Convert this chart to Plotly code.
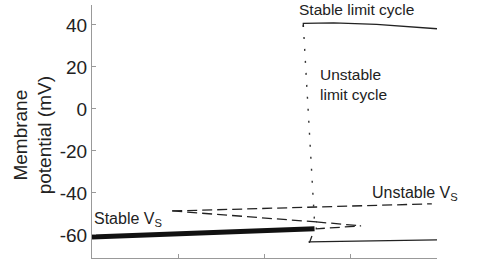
import plotly.graph_objects as go

# Data (x in arbitrary I_stim units, y in mV)
stable_vs_x = [0.0, 2.58]
stable_vs_y = [-61.0, -57.1]
unstable_vs_upper_x = [0.93, 3.94]
unstable_vs_upper_y = [-48.6, -45.2]
unstable_vs_lower_x = [0.93, 2.6, 2.6, 2.6, 3.12]
unstable_vs_lower_y = [-48.6, -53.8, -53.8, -57.1, -55.7]
unstable_vs_tail1_x = [2.6, 3.12]
unstable_vs_tail1_y = [-53.8, -55.7]
unstable_lc_x = [2.45, 2.58]
unstable_lc_y = [40.0, -54.0]
unstable_lc_bottom_x = [2.55, 2.52]
unstable_lc_bottom_y = [-60.5, -63.8]
stable_lc_upper_x = [2.45, 2.45, 2.8, 3.3, 4.0]
stable_lc_upper_y = [39.0, 40.8, 41.0, 40.3, 38.2]
stable_lc_lower_x = [2.51, 4.0]
stable_lc_lower_y = [-63.3, -62.4]
y_ticks = [-60, -40, -20, 0, 20, 40]
y_tick_labels = ["-60", "-40", "-20", "0", "20", "40"]
x_ticks = [1, 2, 3, 4]

dash_style = "10px,5px"
dot_style = "2px,10px"

fig = go.Figure()
fig.add_trace(go.Scatter(x=unstable_vs_upper_x, y=unstable_vs_upper_y, mode="lines",
                         line=dict(color="#222", width=1.3, dash=dash_style)))
fig.add_trace(go.Scatter(x=unstable_vs_lower_x, y=unstable_vs_lower_y, mode="lines",
                         line=dict(color="#222", width=1.3, dash=dash_style)))
fig.add_trace(go.Scatter(x=unstable_vs_tail1_x, y=unstable_vs_tail1_y, mode="lines",
                         line=dict(color="#222", width=1.3, dash=dash_style)))
fig.add_trace(go.Scatter(x=stable_vs_x, y=stable_vs_y, mode="lines",
                         line=dict(color="#111", width=5)))
fig.add_trace(go.Scatter(x=unstable_lc_x, y=unstable_lc_y, mode="lines",
                         line=dict(color="#333", width=1.4, dash=dot_style)))
fig.add_trace(go.Scatter(x=unstable_lc_bottom_x, y=unstable_lc_bottom_y, mode="lines",
                         line=dict(color="#222", width=1.3)))
fig.add_trace(go.Scatter(x=stable_lc_upper_x, y=stable_lc_upper_y, mode="lines",
                         line=dict(color="#222", width=1.3)))
fig.add_trace(go.Scatter(x=stable_lc_lower_x, y=stable_lc_lower_y, mode="lines",
                         line=dict(color="#222", width=1.3)))

font = "Liberation Sans, Arial, sans-serif"
ann = [
    dict(x=2.38, y=47.5, text="Stable limit cycle", size=15.5),
    dict(x=2.62, y=11.5, text="Unstable<br>limit cycle", size=15.5),
    dict(x=3.22, y=-40.5, text="Unstable V<sub>S</sub>", size=16),
    dict(x=0.0, y=-52.5, text="Stable V<sub>S</sub>", size=16),
    dict(x=4.1, y=-68.5, text="I<sub>stim</sub>", size=19),
]
for a in ann:
    fig.add_annotation(x=a["x"], y=a["y"], xref="x", yref="y", text=a["text"], showarrow=False,
                       xanchor="left", yanchor="middle", align="left",
                       font=dict(family=font, size=a["size"], color="#222"))
fig.add_annotation(x=-0.171, y=0.485, xref="paper", yref="paper", xanchor="center", yanchor="middle",
                   text="Membrane<br>potential (mV)", textangle=-90, showarrow=False,
                   font=dict(family=font, size=19, color="#222"))

fig.update_layout(
    width=500, height=277, margin=dict(l=92, r=63, t=5, b=19),
    plot_bgcolor="white", paper_bgcolor="white", showlegend=False,
    xaxis=dict(range=[0, 4], showline=True, linecolor="#999", linewidth=1, ticks="inside",
               tickvals=x_ticks, ticklen=4, tickcolor="#999", showticklabels=False,
               showgrid=False, zeroline=False, fixedrange=True),
    yaxis=dict(range=[-71, 49.5], showline=True, linecolor="#999", linewidth=1, ticks="inside",
               tickvals=y_ticks, ticktext=y_tick_labels, ticklen=4, tickcolor="#999",
               showgrid=False, zeroline=False,
               tickfont=dict(family=font, size=19, color="#222"), fixedrange=True),
)
fig.write_html("out.html")
